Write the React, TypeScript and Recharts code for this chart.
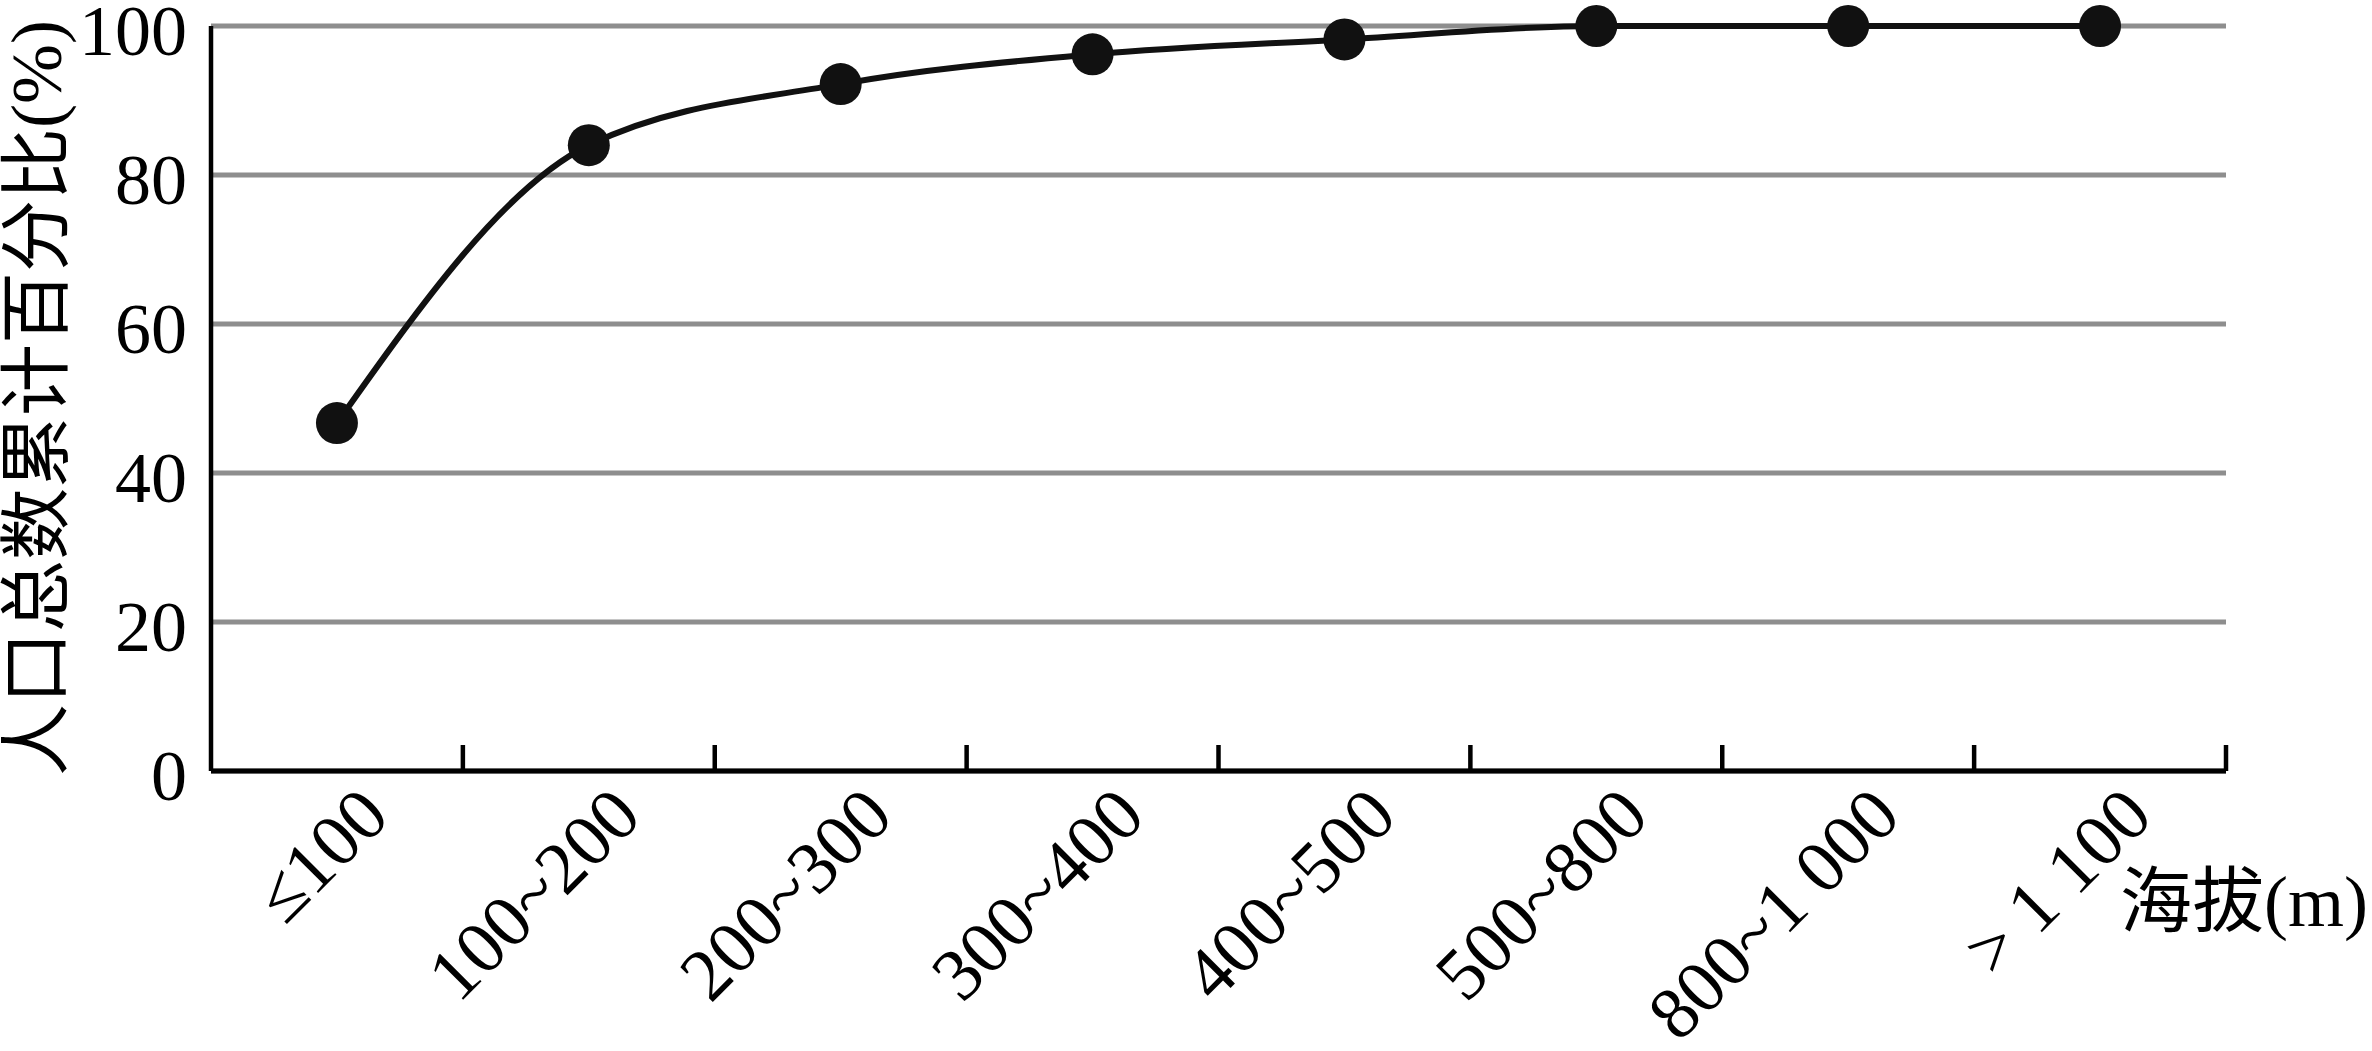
import React from 'react';
import { LineChart, Line, XAxis, YAxis, CartesianGrid } from 'recharts';

// altitude bands (m) and cumulative share of total population (%)
const altitudeBands = ['≤100', '100~200', '200~300', '300~400', '400~500', '500~800', '800~1 000', '> 1 100'];
const cumulativePct = [46.7, 84.0, 92.2, 96.2, 98.2, 100, 100, 100];
const yTicks = [0, 20, 40, 60, 80, 100];

const data = altitudeBands.map((band, i) => ({ band, pct: cumulativePct[i] }));

const SERIF = '"Liberation Serif", "Times New Roman", "Noto Sans CJK SC", serif';

// label rotated 45deg, plus an inward tick at the right edge of each band
const BandTick = ({ x, y, payload }: any) => {
  const half = payload && typeof payload.offset === 'number' ? payload.offset : 0;
  return (
    <g>
      {half > 0 && <line x1={x + half} x2={x + half} y1={y} y2={y - 26} stroke="#000" strokeWidth={4.5} />}
      <g transform={`translate(${x + 55},${y + 48})`}>
        <text textAnchor="end" transform="rotate(-45)" fontFamily={SERIF} fontSize={74} fill="#000">
          {payload.value}
        </text>
      </g>
    </g>
  );
};

const YTitle = () => (
  <text
    x={37}
    y={398}
    transform="rotate(-90 37 398)"
    textAnchor="middle"
    dominantBaseline="central"
    fontFamily={SERIF}
    fontSize={72}
    fill="#000"
  >
    人口总数累计百分比(%)
  </text>
);

const XTitle = () => (
  <text x={2120} y={926} fontFamily={SERIF} fontSize={72} fill="#000">
    海拔(m)
  </text>
);

const App: React.FC = () => (
  <div style={{ width: 2372, height: 1051, background: '#fff' }}>
    <style>{'body{margin:0;overflow:hidden;background:#fff}'}</style>
    <LineChart width={2372} height={1051} data={data} margin={{ top: 26, right: 146, left: 0, bottom: 0 }}>
      <CartesianGrid vertical={false} stroke="#8e8e8e" strokeWidth={5} />
      <XAxis
        dataKey="band"
        scale="band"
        height={280}
        interval={0}
        tickLine={false}
        tickSize={0}
        tickMargin={0}
        axisLine={{ stroke: '#000', strokeWidth: 5 }}
        tick={<BandTick />}
        label={<XTitle />}
      />
      <YAxis
        width={211}
        domain={[0, 100]}
        ticks={yTicks}
        interval={0}
        tickLine={false}
        tickSize={0}
        tickMargin={24}
        axisLine={{ stroke: '#000', strokeWidth: 4.5 }}
        tick={{ fontFamily: SERIF, fontSize: 72, fill: '#000', dy: 3 }}
        label={<YTitle />}
      />
      <Line
        type="monotone"
        dataKey="pct"
        stroke="#111"
        strokeWidth={6}
        dot={{ r: 21, fill: '#111', stroke: 'none' }}
        activeDot={false}
        isAnimationActive={false}
      />
    </LineChart>
  </div>
);

export default App;
